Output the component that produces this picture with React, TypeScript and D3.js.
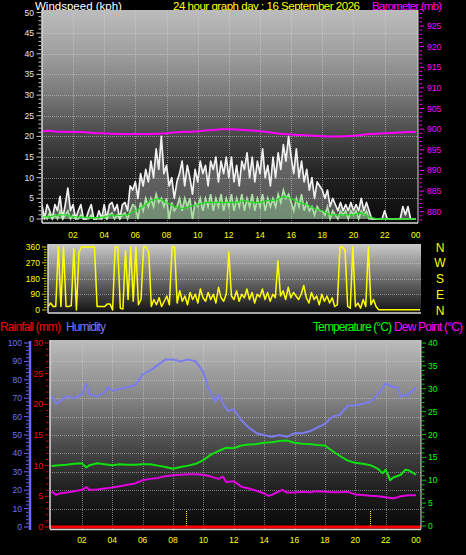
import React from 'react';
import * as d3 from 'd3';

// ---------- DATA ----------
const hourLabels = ['02', '04', '06', '08', '10', '12', '14', '16', '18', '20', '22', '00'];
const hourTicks = [2, 4, 6, 8, 10, 12, 14, 16, 18, 20, 22, 24];

// wind gust (kph), 10-minute samples from 00:00 to 24:00
const windGust = [
  3.5, 0, 3.5, 2, 0, 3.5,
  2, 5.5, 0, 3.5, 7.5, 2,
  3.5, 0, 2, 3.5, 0, 0,
  2, 3.5, 0, 0, 2, 0,
  3.5, 0, 3.5, 4, 2, 3.5,
  0, 3.5, 4, 2, 8, 7,
  9, 5, 11, 8, 12, 9,
  14, 10, 17, 12, 20, 11,
  13, 8, 10, 5, 9, 11,
  14, 8, 13, 10, 6, 12,
  9, 14, 11, 13, 8, 14,
  12, 15, 9, 14, 11, 15,
  10, 15, 9, 13, 8, 14,
  12, 16, 10, 15, 9, 14,
  11, 17, 10, 13, 8, 15,
  10, 16, 12, 18, 14, 20,
  15, 11, 17, 10, 14, 9,
  12, 7, 10, 5, 9, 8,
  7, 5, 7, 3, 5, 3.5,
  2, 4, 2, 3.5, 2, 4,
  2, 3.5, 2, 5, 2, 4,
  2, 0, 0, 0, 0, 0,
  2, 0, 0, 0, 0, 0,
  0, 3, 1, 3, 0, 0,
  0,
];

// wind speed (kph), 10-minute samples
const windSpeed = [
  0, 1, 0, 1.5, 0, 1,
  0, 2, 0, 1, 2, 0,
  1, 0, 0, 1, 0, 0,
  0, 1, 0, 0, 0, 0,
  1, 0, 1, 1.5, 0, 1,
  0, 1, 1.5, 0, 2, 3.5,
  3, 0, 4, 2, 5, 3,
  5, 3, 6, 4, 5, 3,
  5, 0, 4, 2, 3, 5,
  2, 5, 3, 5, 0, 4,
  3, 5, 2, 5, 3, 6,
  2, 5, 3, 6, 2, 5,
  3, 6, 2, 5, 3, 6,
  2, 5, 3, 6, 2, 5,
  3, 6, 2, 5, 3, 5,
  3, 6, 4, 7, 5, 6,
  4, 2, 5, 3, 6, 2,
  4, 2, 3, 1, 3, 2,
  2, 1, 3, 0, 2, 1,
  0, 2, 1, 2, 0, 2,
  1, 2, 0, 2, 1, 2,
  0, 0, 0, 0, 0, 0,
  0, 0, 0, 0, 0, 0,
  0, 0, 0, 0, 0, 0,
  0,
];

// average wind (kph), 30-minute samples
const windAverage = [
  0.5, 0.5, 1, 1, 0.5, 0.5, 0.3, 0.3, 0.5, 1, 0.8, 1,
  2, 3, 4.5, 5, 4, 3, 2.5, 3, 3.5, 4, 4, 4,
  4, 4, 4.5, 4, 4, 4.5, 4.5, 5.5, 5, 4, 3.5, 2.5,
  2, 1, 1, 1, 1, 1.5, 0.5, 0, 0, 0, 0, 0, 0,
];

// barometer (mb), 30-minute samples
const barometer = [
  899.5, 899.6, 899.4, 899.4, 899.3, 899.3, 899.2, 899.0, 899.0, 898.9, 898.8, 898.8,
  898.8, 898.8, 898.8, 898.9, 899.0, 899.2, 899.3, 899.4, 899.5, 899.7, 899.8, 900.0,
  900.0, 899.9, 899.8, 899.7, 899.5, 899.3, 899.0, 898.8, 898.7, 898.6, 898.5, 898.4,
  898.3, 898.2, 898.2, 898.3, 898.4, 898.6, 898.8, 898.9, 899.0, 899.1, 899.2, 899.3,
  899.3,
];

// wind direction (deg), 10-minute samples
const windDirection = [
  20, 40, 20, 20, 360, 20, 360, 20, 20, 25, 350, 0,
  330, 360, 360, 360, 360, 360, 360, 20, 20, 20, 20, 35,
  35, 0, 360, 360, 10, 5, 340, 60, 360, 50, 360, 30,
  60, 360, 360, 330, 20, 60, 30, 70, 20, 50, 80, 30,
  360, 360, 40, 110, 50, 80, 30, 100, 60, 90, 40, 120,
  70, 50, 100, 60, 90, 40, 130, 70, 50, 90, 330, 80,
  60, 110, 50, 90, 70, 120, 60, 100, 40, 90, 75, 120,
  60, 100, 50, 90, 70, 280, 80, 110, 60, 130, 70, 100,
  80, 60, 90, 140, 70, 40, 100, 60, 80, 30, 90, 50,
  80, 40, 70, 20, 30, 360, 360, 340, 20, 10, 360, 20,
  40, 10, 60, 20, 360, 30, 60, 20, 2, 2, 2, 2,
  2, 2, 2, 2, 2, 2, 2, 2, 2, 2, 2, 2,
  2,
];
const directionTicks = [0, 90, 180, 270, 360];
const compassLabels = ['N', 'E', 'S', 'W', 'N'];

// humidity (%), [hour, value]
const humidity: [number, number][] = [
  [0, 71], [0.3, 67], [0.5, 68], [1, 71], [1.5, 70], [2, 72], [2.3, 78], [2.5, 72],
  [3, 71], [3.5, 73], [3.7, 76], [4, 74], [4.5, 75], [5, 76], [5.5, 77], [6, 83],
  [6.5, 85], [7, 88], [7.5, 91], [8, 91], [8.5, 90], [9, 91], [9.5, 90], [10, 84],
  [10.3, 76], [10.6, 71], [10.8, 68], [11, 72], [11.3, 67], [11.6, 63], [12, 64],
  [12.5, 58], [13, 54], [13.5, 51], [14, 50], [14.5, 49], [15, 50], [15.5, 49],
  [16, 51], [16.5, 51], [17, 52], [17.5, 54], [18, 56], [18.5, 60], [19, 61],
  [19.5, 66], [20, 66], [20.5, 67], [21, 68], [21.5, 72], [22, 78], [22.5, 76],
  [22.8, 76], [23, 71], [23.5, 72], [24, 76],
];

// temperature (°C), [hour, value]
const temperature: [number, number][] = [
  [0, 13.1], [0.5, 13.3], [1, 13.4], [1.5, 13.6], [2, 13.7], [2.3, 12.8], [2.5, 13.3],
  [3, 13.7], [3.5, 13.5], [4, 13.3], [4.5, 13.5], [5, 13.4], [5.5, 13.4], [6, 13.5],
  [6.5, 13.5], [7, 13.2], [7.5, 12.9], [8, 12.5], [8.5, 12.9], [9, 13.2], [9.5, 13.6],
  [10, 14.4], [10.5, 15.6], [11, 16.4], [11.5, 17.1], [12, 17], [12.5, 17.6],
  [13, 17.8], [13.5, 17.9], [14, 18.2], [14.5, 18.3], [15, 18.6], [15.5, 18.7],
  [16, 18.2], [16.5, 18], [17, 17.9], [17.5, 17.7], [18, 17.6], [18.5, 16.4],
  [19, 15.3], [19.5, 14.3], [20, 13.8], [20.5, 13.6], [21, 13.3], [21.5, 12.5],
  [21.8, 11.5], [22, 12.3], [22.3, 10], [22.5, 10.6], [23, 11.2], [23.3, 12.3],
  [23.5, 12.2], [24, 11.2],
];

// dew point (°C), [hour, value]
const dewPoint: [number, number][] = [
  [0, 7.5], [0.3, 6.8], [0.5, 7.1], [1, 7.3], [1.5, 7.6], [2, 7.9], [2.3, 8.5],
  [2.5, 7.9], [3, 8], [3.5, 8.2], [4, 8.4], [4.5, 8.7], [5, 9], [5.5, 9.3], [6, 10],
  [6.5, 10.3], [7, 10.5], [7.5, 10.9], [8, 11.1], [8.5, 11.2], [9, 11.3], [9.5, 11.3],
  [10, 11.2], [10.5, 10.8], [11, 10.3], [11.3, 10.8], [11.5, 9.6], [12, 9.8],
  [12.5, 8.6], [13, 8.2], [13.5, 7.7], [14, 7.1], [14.3, 6.6], [14.5, 6.8], [15, 7.6],
  [15.2, 7.9], [15.5, 7.3], [16, 7.3], [16.5, 7.5], [17, 7.4], [17.5, 7.6], [18, 7.5],
  [18.5, 7.4], [19, 7.4], [19.5, 7.5], [20, 6.9], [20.5, 6.8], [21, 6.6], [21.5, 6.5],
  [22, 6.3], [22.5, 6.0], [23, 6.5], [23.5, 6.7], [24, 6.7],
];

// rainfall (mm), [hour, value]
const rainfall: [number, number][] = [[0, 0], [24, 0]];
const markerHours = [8.85, 20.97];

const humidityTicks = [0, 10, 20, 30, 40, 50, 60, 70, 80, 90, 100];
const rainTicks = [0, 5, 10, 15, 20, 25, 30];
const tempTicks = [0, 5, 10, 15, 20, 25, 30, 35, 40];
const windTicks = [0, 5, 10, 15, 20, 25, 30, 35, 40, 45, 50];
const baroTicks = [880, 885, 890, 895, 900, 905, 910, 915, 920, 925];

// ---------- CHART ----------
const FONT = 'Liberation Sans, Arial, sans-serif';

export default function App() {
  // top panel
  const top = { x0: 42, x1: 418, y0: 10, y1: 223 };
  const tTop = d3.scaleLinear().domain([0, 24]).range([41.9, 415.8]);
  const yWind = d3.scaleLinear().domain([0, 50]).range([219, 12.5]);
  const yBaro = d3.scaleLinear().domain([880, 925]).range([211.7, 26]);

  // direction panel
  const dir = { x0: 48, x1: 421, y0: 244, y1: 313 };
  const tDir = d3.scaleLinear().domain([0, 24]).range([48, 420]);
  const yDir = d3.scaleLinear().domain([0, 360]).range([310, 247]);

  // bottom panel
  const bot = { x0: 50, x1: 421, y0: 340, y1: 529 };
  const tBot = d3.scaleLinear().domain([0, 24]).range([51.5, 416]);
  const yHum = d3.scaleLinear().domain([0, 100]).range([527, 343]);
  const yRain = d3.scaleLinear().domain([0, 30]).range([527, 343]);
  const yTemp = d3.scaleLinear().domain([0, 40]).range([526, 343]);

  const idxLine = (arr: number[], step: number, tx: any, ty: any) =>
    d3.line<number>().x((_, i) => tx(i * step)).y((v) => ty(v))(arr) || '';
  const idxArea = (arr: number[], step: number, tx: any, ty: any) =>
    d3.area<number>().x((_, i) => tx(i * step)).y0(ty(0)).y1((v) => ty(v))(arr) || '';
  const pairLine = (arr: [number, number][], tx: any, ty: any) =>
    d3.line<[number, number]>().x((d) => tx(d[0])).y((d) => ty(d[1]))(arr) || '';

  const gridColor = 'rgba(215,215,215,0.5)';

  return (
    <svg width={466} height={555} style={{ position: 'absolute', left: 0, top: 0, background: '#000' }}
      fontFamily={FONT}>
      <defs>
        <linearGradient id="gTop" x1="0" y1="0" x2="0" y2="1">
          <stop offset="0" stopColor="#bcbcbc" />
          <stop offset="0.2" stopColor="#a0a0a0" />
          <stop offset="0.4" stopColor="#787878" />
          <stop offset="0.58" stopColor="#4a4a4a" />
          <stop offset="0.75" stopColor="#262626" />
          <stop offset="0.9" stopColor="#141414" />
          <stop offset="1" stopColor="#0c0c0c" />
        </linearGradient>
        <linearGradient id="gDir" x1="0" y1="0" x2="0" y2="1">
          <stop offset="0" stopColor="#cacaca" />
          <stop offset="0.5" stopColor="#6e6e6e" />
          <stop offset="1" stopColor="#121212" />
        </linearGradient>
        <linearGradient id="gBot" x1="0" y1="0" x2="0" y2="1">
          <stop offset="0" stopColor="#bcbcbc" />
          <stop offset="0.3" stopColor="#868686" />
          <stop offset="0.55" stopColor="#4c4c4c" />
          <stop offset="0.8" stopColor="#1e1e1e" />
          <stop offset="1" stopColor="#080808" />
        </linearGradient>
        <clipPath id="cTop"><rect x={top.x0} y={top.y0} width={top.x1 - top.x0} height={top.y1 - top.y0} /></clipPath>
        <clipPath id="cDir"><rect x={dir.x0} y={dir.y0} width={dir.x1 - dir.x0} height={dir.y1 - dir.y0} /></clipPath>
        <clipPath id="cBot"><rect x={bot.x0} y={bot.y0} width={bot.x1 - bot.x0} height={bot.y1 - bot.y0} /></clipPath>
      </defs>

      {/* ===== TOP PANEL ===== */}
      <text x={35} y={10} fill="#ffffff" fontSize={11.5}>Windspeed (kph)</text>
      <text x={173} y={10} fill="#ffff00" fontSize={11.5} textLength={187}>24 hour graph day : 16 September 2026</text>
      <text x={372} y={10} fill="#ff00ff" fontSize={11.5} textLength={70}>Barometer (mb)</text>

      <rect x={top.x0} y={top.y0} width={top.x1 - top.x0} height={top.y1 - top.y0} fill="url(#gTop)" />
      {windTicks.slice(1, -1).map((v) => (
        <line key={'wg' + v} x1={top.x0} x2={top.x1} y1={Math.round(yWind(v)) + 0.5} y2={Math.round(yWind(v)) + 0.5} stroke={gridColor} strokeDasharray="1,1" />
      ))}
      {hourTicks.slice(0, -1).map((h) => (
        <line key={'wv' + h} x1={Math.round(tTop(h)) + 0.5} x2={Math.round(tTop(h)) + 0.5} y1={top.y0} y2={top.y1} stroke={gridColor} strokeDasharray="1,1" />
      ))}
      <g clipPath="url(#cTop)">
        <path d={idxArea(windGust, 1 / 6, tTop, yWind)} fill="rgba(215,215,215,0.35)" stroke="none" />
        <path d={idxLine(windGust, 1 / 6, tTop, yWind)} fill="none" stroke="#f0f0f0" strokeWidth={1.7} strokeLinejoin="round" />
        <path d={idxArea(windSpeed, 1 / 6, tTop, yWind)} fill="rgba(170,240,170,0.35)" stroke="none" />
        <path d={idxLine(windSpeed, 1 / 6, tTop, yWind)} fill="none" stroke="#b8f5b0" strokeOpacity={0.85} strokeWidth={1.7} />
        <path d={idxLine(windAverage, 0.5, tTop, yWind)} fill="none" stroke="#22dd22" strokeWidth={1.3} />
        <path d={idxLine(barometer, 0.5, tTop, yBaro)} fill="none" stroke="#ff00ff" strokeWidth={2} />
      </g>
      {/* frame */}
      <line x1={top.x0} x2={top.x0} y1={top.y0} y2={top.y1} stroke="#d8d8d8" strokeWidth={1.5} />
      <line x1={top.x0} x2={top.x1} y1={top.y1} y2={top.y1} stroke="#d8d8d8" strokeWidth={1.5} />
      <line x1={top.x1} x2={top.x1} y1={top.y0} y2={top.y1} stroke="#d8d8d8" strokeWidth={1} />
      {/* wind axis */}
      {d3.range(0, 51).map((v) => (
        <line key={'wt' + v} x1={v % 5 === 0 ? 36.5 : 38.5} x2={41} y1={yWind(v)} y2={yWind(v)} stroke="#c8c8c8" strokeWidth={1} />
      ))}
      {windTicks.map((v) => (
        <text key={'wl' + v} x={34} y={yWind(v) + 3} fill="#e4e4f4" fontSize={8.5} textAnchor="end">{v}</text>
      ))}
      {/* baro axis */}
      {d3.range(878, 930).map((v) => (
        <line key={'bt' + v} x1={419.5} x2={v % 5 === 0 ? 424 : 422} y1={yBaro(v)} y2={yBaro(v)} stroke="#ff00ff" strokeWidth={1} />
      ))}
      {baroTicks.map((v) => (
        <text key={'bl' + v} x={427} y={yBaro(v) + 3} fill="#ff00ff" fontSize={8.5}>{v}</text>
      ))}
      {hourTicks.map((h, i) => (
        <text key={'tx' + h} x={tTop(h)} y={238} fill="#ffff00" fontSize={8.5} textAnchor="middle">{hourLabels[i]}</text>
      ))}

      {/* ===== DIRECTION PANEL ===== */}
      <rect x={dir.x0} y={dir.y0} width={dir.x1 - dir.x0} height={dir.y1 - dir.y0} fill="url(#gDir)" />
      {directionTicks.slice(1, -1).map((v) => (
        <line key={'dg' + v} x1={dir.x0} x2={dir.x1} y1={Math.round(yDir(v)) + 0.5} y2={Math.round(yDir(v)) + 0.5} stroke={gridColor} strokeDasharray="1,1" />
      ))}
      <g clipPath="url(#cDir)">
        <path d={idxLine(windDirection, 1 / 6, tDir, yDir)} fill="none" stroke="#ffff00" strokeWidth={1.5} strokeLinejoin="round" />
      </g>
      <line x1={dir.x0} x2={dir.x0} y1={dir.y0} y2={dir.y1} stroke="#d8d8d8" strokeWidth={1.5} />
      <line x1={dir.x0} x2={dir.x1} y1={dir.y1} y2={dir.y1} stroke="#d8d8d8" strokeWidth={1.5} />
      {d3.range(0, 361, 15).map((v) => (
        <line key={'dt' + v} x1={v % 90 === 0 ? 42 : 44} x2={46.5} y1={yDir(v)} y2={yDir(v)} stroke="#c8c800" strokeWidth={1} />
      ))}
      {directionTicks.map((v) => (
        <text key={'dl' + v} x={40} y={yDir(v) + 3} fill="#ffff00" fontSize={8.5} textAnchor="end">{v}</text>
      ))}
      {directionTicks.map((v, i) => (
        <text key={'cl' + i} x={440} y={yDir(v) + 4.5} fill="#ffff00" fontSize={12} textAnchor="middle">{compassLabels[i]}</text>
      ))}

      {/* ===== BOTTOM PANEL ===== */}
      <text x={0} y={331} fill="#ff0000" fontSize={12} textLength={61}>Rainfall (mm)</text>
      <text x={66} y={331} fill="#7878ff" fontSize={12} textLength={40}>Humidity</text>
      <text x={313} y={331} fill="#00ff00" fontSize={12} textLength={79}>Temperature (°C)</text>
      <text x={394} y={331} fill="#ff00ff" fontSize={12} textLength={69}>Dew Point (°C)</text>

      <rect x={bot.x0} y={bot.y0} width={bot.x1 - bot.x0} height={bot.y1 - bot.y0} fill="url(#gBot)" />
      {humidityTicks.slice(1, -1).map((v) => (
        <line key={'hg' + v} x1={bot.x0} x2={bot.x1} y1={Math.round(yHum(v)) + 0.5} y2={Math.round(yHum(v)) + 0.5} stroke={gridColor} strokeDasharray="1,1" />
      ))}
      {hourTicks.slice(0, -1).map((h) => (
        <line key={'bv' + h} x1={Math.round(tBot(h)) + 0.5} x2={Math.round(tBot(h)) + 0.5} y1={bot.y0} y2={bot.y1} stroke={gridColor} strokeDasharray="1,1" />
      ))}
      <g clipPath="url(#cBot)">
        <path d={pairLine(humidity, tBot, yHum)} fill="none" stroke="#7c7cf0" strokeWidth={2} strokeLinejoin="round" />
        <path d={pairLine(temperature, tBot, yTemp)} fill="none" stroke="#10e010" strokeWidth={2} strokeLinejoin="round" />
        <path d={pairLine(dewPoint, tBot, yTemp)} fill="none" stroke="#e000e0" strokeWidth={2} strokeLinejoin="round" />
        {markerHours.map((h) => (
          <line key={'mk' + h} x1={Math.round(tBot(h)) + 0.5} x2={Math.round(tBot(h)) + 0.5} y1={511} y2={bot.y1} stroke="#ffff30" strokeWidth={1} strokeDasharray="1,1" />
        ))}
      </g>
      <path d={pairLine(rainfall, (h: number) => h === 0 ? bot.x0 : bot.x1, yRain)} fill="none" stroke="#ff0000" strokeWidth={3} />
      <line x1={bot.x0} x2={bot.x0} y1={bot.y0} y2={bot.y1} stroke="#d8d8d8" strokeWidth={1.5} />
      <line x1={bot.x0} x2={bot.x1} y1={bot.y1 + 0.5} y2={bot.y1 + 0.5} stroke="#d8d8d8" strokeWidth={1.5} />
      <line x1={bot.x1} x2={bot.x1} y1={bot.y0} y2={bot.y1} stroke="#d8d8d8" strokeWidth={1} />

      {/* humidity axis */}
      <line x1={30} x2={30} y1={yHum(100) - 2} y2={yHum(0) + 3} stroke="#6a6aff" strokeWidth={2.5} />
      {d3.range(0, 101, 2).map((v) => (
        <line key={'ht' + v} x1={v % 10 === 0 ? 24 : 26} x2={28.5} y1={yHum(v)} y2={yHum(v)} stroke="#6a6aff" strokeWidth={1} />
      ))}
      {humidityTicks.map((v) => (
        <text key={'hl' + v} x={22} y={yHum(v) + 3} fill="#7070ff" fontSize={8.5} textAnchor="end">{v}</text>
      ))}
      {/* rain axis */}
      {d3.range(0, 31).map((v) => (
        <line key={'rt' + v} x1={v % 5 === 0 ? 44.5 : 46} x2={48.5} y1={yRain(v)} y2={yRain(v)} stroke="#e00000" strokeWidth={1} />
      ))}
      {rainTicks.map((v) => (
        <text key={'rl' + v} x={43} y={yRain(v) + 3} fill="#ff0000" fontSize={8.5} textAnchor="end">{v}</text>
      ))}
      {/* temp axis */}
      {d3.range(0, 41).map((v) => (
        <line key={'tt' + v} x1={422} x2={v % 5 === 0 ? 426 : 424.5} y1={yTemp(v)} y2={yTemp(v)} stroke="#00cc00" strokeWidth={1} />
      ))}
      {tempTicks.map((v) => (
        <text key={'tl' + v} x={428} y={yTemp(v) + 3} fill="#00ff00" fontSize={8.5}>{v}</text>
      ))}
      {hourTicks.map((h, i) => (
        <text key={'bx' + h} x={tBot(h)} y={543} fill="#ffff00" fontSize={8.5} textAnchor="middle">{hourLabels[i]}</text>
      ))}
    </svg>
  );
}
